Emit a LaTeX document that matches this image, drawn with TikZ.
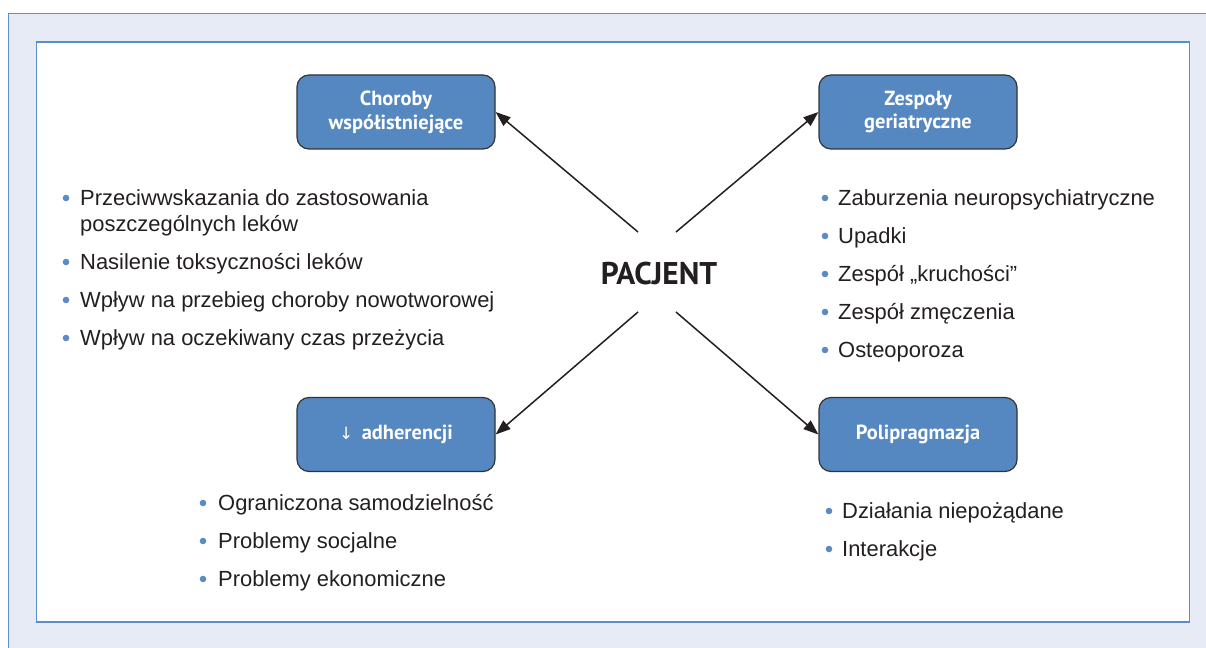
\documentclass[tikz,border=0pt]{standalone}
\usepackage{fontspec}
\setmainfont{Liberation Sans}
\newfontfamily\hdr{PT Sans}
\newfontfamily\dejavu{DejaVu Sans}
\usetikzlibrary{arrows.meta}
\definecolor{framefill}{HTML}{E7EBF6}
\definecolor{frameline}{HTML}{5B8ECB}
\definecolor{boxfill}{HTML}{5588C1}
\definecolor{bulletc}{HTML}{5B8AC6}
\definecolor{txt}{HTML}{231F20}
\begin{document}
\begin{tikzpicture}[x=1bp,y=-1bp,
  headbox/.style={draw=black!80, line width=1.2bp, fill=boxfill, rounded corners=12bp,
    minimum width=198bp, minimum height=74bp, text=white, align=center, inner sep=0pt,
    font=\hdr\bfseries\fontsize{20.5}{24}\selectfont},
  item/.style={anchor=base west, inner sep=0pt, text=txt, font=\fontsize{22}{26}\selectfont},
  conn/.style={-{Triangle[length=15bp,width=11bp]}, line width=1.5bp, draw=txt},
  dot/.style={fill=bulletc}
]
\useasboundingbox (0,0) rectangle (1206,648);
\fill[white] (0,0) rectangle (1206,648);
\fill[framefill] (8.5,13.5) rectangle (1206,648);
\draw[frameline, line width=1.5bp] (8.5,648) -- (8.5,13.5) -- (1206,13.5);
\draw[frameline, line width=1.2bp, fill=white] (36.5,42) rectangle (1189.5,622);

\node[headbox] (ch) at (396,112) {Choroby\\współistniejące};
\node[headbox] (zg) at (918,112) {Zespoły\\geriatryczne};
\node[headbox] (adh) at (396,434.5) {{\dejavu\mdseries\fontsize{17}{24}\selectfont ↓}\, adherencji};
\node[headbox] (pol) at (918,434.5) {Polipragmazja};

\node[inner sep=0pt, text=txt, font=\hdr\bfseries\fontsize{31.5}{34}\selectfont] (pac) at (659,273.5) {PACJENT};

\coordinate (s1) at (638,232);
\coordinate (s2) at (676,232);
\coordinate (s3) at (638,312);
\coordinate (s4) at (676,312);
\draw[conn] (s1) -- (ch.east);
\draw[conn] (s2) -- (zg.west);
\draw[conn] (s3) -- (adh.east);
\draw[conn] (s4) -- (pol.west);

% left list
\foreach \y in {198,262,300,338} \fill[dot] (66,\y) circle (3.3);
\node[item] (l1) at (80,205.5) {Przeciwwskazania do zastosowania};
\node[item] (l1b) at (80,231.5) {poszczególnych leków};
\node[item] (l2) at (80,269.5) {Nasilenie toksyczności leków};
\node[item] (l3) at (80,307.5) {Wpływ na przebieg choroby nowotworowej};
\node[item] (l4) at (80,345.5) {Wpływ na oczekiwany czas przeżycia};

% right list
\foreach \y in {198,236,274,312,350} \fill[dot] (825,\y) circle (3.3);
\node[item] (r1) at (838,205.5) {Zaburzenia neuropsychiatryczne};
\node[item] (r2) at (838,243.5) {Upadki};
\node[item] (r3) at (838,281.5) {Zespół „kruchości”};
\node[item] (r4) at (838,319.5) {Zespół zmęczenia};
\node[item] (r5) at (838,357.5) {Osteoporoza};

% bottom left list
\foreach \y in {503,541,579} \fill[dot] (203,\y) circle (3.3);
\node[item] (b1) at (218,510.5) {Ograniczona samodzielność};
\node[item] (b2) at (218,548.5) {Problemy socjalne};
\node[item] (b3) at (218,586.5) {Problemy ekonomiczne};

% bottom right list
\foreach \y in {511,549} \fill[dot] (829,\y) circle (3.3);
\node[item] (p1) at (842,518.5) {Działania niepożądane};
\node[item] (p2) at (842,556.5) {Interakcje};
\end{tikzpicture}
\end{document}
